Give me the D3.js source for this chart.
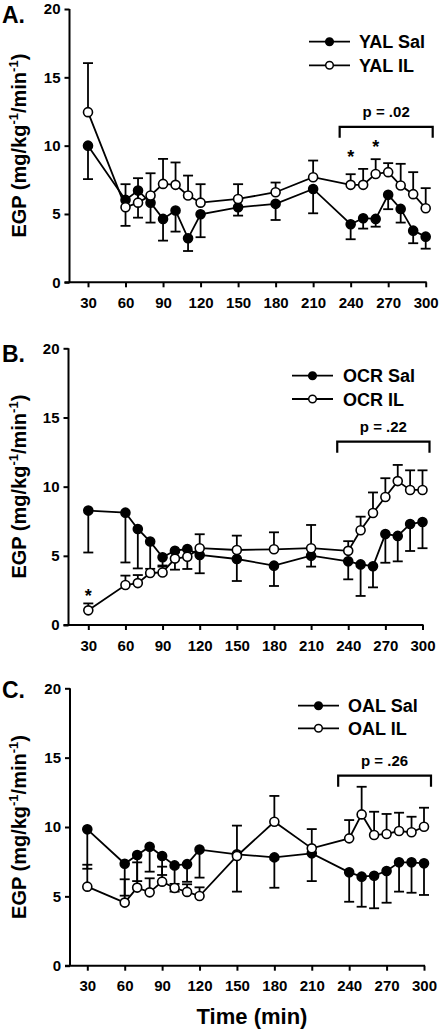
<!DOCTYPE html>
<html>
<head>
<meta charset="utf-8">
<script src="https://cdn.jsdelivr.net/npm/d3@7"></script>
<style>
  html, body { margin: 0; padding: 0; background: #fff; }
  svg { display: block; }
  text { font-family: "Liberation Sans", Arial, sans-serif; font-weight: bold; fill: #000; }
</style>
</head>
<body>
<svg id="chart" width="442" height="1034"></svg>
<script>
// ---------- data ----------
const times = [30, 60, 70, 80, 90, 100, 110, 120, 150, 180, 210, 240, 250, 260, 270, 280, 290, 300];
const xTicks = [30, 60, 90, 120, 150, 180, 210, 240, 270, 300];
const yTicks = [0, 5, 10, 15, 20];

// Panel A
const yalSal    = [10.0, 6.03, 6.71, 5.83, 4.64, 5.25, 3.22, 4.98, 5.49, 5.74, 6.83, 4.25, 4.69, 4.64, 6.40, 5.37, 3.78, 3.34];
const yalSalErr = [2.45, 1.90, 1.98, 1.46, 1.59, 1.54, 0.93, 1.68, 0.61, 1.18, 1.78, 1.10, 0.76, 0.57, 1.05, 1.00, 0.92, 0.88];
const yalIL     = [12.45, 5.49, 5.83, 6.35, 7.20, 7.13, 6.35, 5.83, 6.10, 6.59, 7.69, 7.13, 7.13, 7.93, 8.06, 7.08, 6.45, 5.42];
const yalILErr  = [3.59, 1.69, 1.79, 1.63, 1.83, 1.64, 1.46, 1.35, 1.08, 0.71, 1.22, 0.78, 1.17, 1.08, 0.66, 1.59, 1.61, 1.47];

// Panel B
const ocrSal    = [8.27, 8.12, 6.94, 6.03, 4.90, 5.37, 5.49, 5.06, 4.77, 4.29, 5.01, 4.60, 4.38, 4.25, 6.57, 6.44, 7.30, 7.45];
const ocrSalErr = [3.03, 3.60, 2.85, 2.30, 0.60, 1.37, 1.44, 1.32, 1.59, 1.47, 0.79, 1.30, 2.28, 1.53, 2.07, 1.84, 1.95, 1.90];
const ocrIL     = [1.06, 2.89, 3.03, 3.76, 3.80, 4.80, 4.93, 5.55, 5.42, 5.47, 5.55, 5.36, 6.85, 8.10, 9.25, 10.40, 9.76, 9.76];
const ocrILErr  = [0.50, 0.68, 0.58, 0.30, 0.42, 0.50, 0.50, 1.01, 1.04, 1.23, 1.68, 0.70, 0.98, 1.48, 1.36, 1.17, 1.42, 1.42];

// Panel C
const oalSal    = [9.83, 7.35, 7.98, 8.58, 7.91, 7.23, 7.32, 8.37, 8.03, 7.81, 8.10, 6.73, 6.42, 6.49, 6.83, 7.45, 7.45, 7.38];
const oalSalErr = [2.84, 2.30, 1.88, 1.80, 1.37, 1.89, 1.27, 2.02, 2.69, 2.19, 2.00, 2.12, 2.17, 2.35, 2.29, 2.11, 2.19, 2.28];
const oalIL     = [5.70, 4.55, 5.63, 5.29, 6.06, 5.60, 5.32, 5.02, 7.91, 10.38, 8.46, 9.18, 10.91, 9.42, 9.50, 9.71, 9.62, 10.02];
const oalILErr  = [1.58, 1.68, 1.82, 1.01, 1.08, 0.30, 0.55, 0.63, 2.19, 1.86, 1.39, 1.32, 1.99, 1.68, 1.44, 1.32, 1.12, 1.37];

// Annotations (asterisks: time, value) and bracket values
const starsA = [[240, 9.46], [260, 10.2]];
const starsB = [[30, 2.41]];
const starsC = [];
const pLabels = ["p = .02", "p = .22", "p = .26"];
const bracketY = [11.38, 13.25, 13.7];
const panelLetters = ["A.", "B.", "C."];
const seriesNames = [["YAL Sal", "YAL IL"], ["OCR Sal", "OCR IL"], ["OAL Sal", "OAL IL"]];

// ---------- layout ----------
const panels = [
  { letter: panelLetters[0], sal: yalSal, salErr: yalSalErr, il: yalIL, ilErr: yalILErr, stars: starsA, p: pLabels[0], by: bracketY[0], names: seriesNames[0],
    xL: 88, xR: 425.7, y0: 282.3, y20: 9, axisX: 69.5, letterY: 22.5, leg: { x1: 309, x2: 350, tx: 359, r1: 41.7, r2: 65.3 } },
  { letter: panelLetters[1], sal: ocrSal, salErr: ocrSalErr, il: ocrIL, ilErr: ocrILErr, stars: starsB, p: pLabels[1], by: bracketY[1], names: seriesNames[1],
    xL: 88.3, xR: 422.5, y0: 625, y20: 348.3, axisX: 68.5, letterY: 361.7, leg: { x1: 292, x2: 333, tx: 343, r1: 375.7, r2: 399 } },
  { letter: panelLetters[2], sal: oalSal, salErr: oalSalErr, il: oalIL, ilErr: oalILErr, stars: starsC, p: pLabels[2], by: bracketY[2], names: seriesNames[2],
    xL: 87.3, xR: 424, y0: 965.7, y20: 688.3, axisX: 70, letterY: 698.3, leg: { x1: 298, x2: 339, tx: 348, r1: 705.7, r2: 728.3 } }
];

const svg = d3.select("#chart");
const LW = 1.8;

panels.forEach(P => {
  const x = d3.scaleLinear().domain([30, 300]).range([P.xL, P.xR]);
  const y = d3.scaleLinear().domain([0, 20]).range([P.y0, P.y20]);
  const g = svg.append("g");

  // axes
  const yAxis = d3.axisLeft(y).tickValues(yTicks).tickSize(5).tickPadding(4);
  const ya = g.append("g").attr("transform", `translate(${P.axisX},0)`).call(yAxis);
  ya.select(".domain").remove();
  ya.selectAll(".tick line").attr("stroke", "#000").attr("stroke-width", 2);
  ya.selectAll(".tick text").style("font-size", "15px").attr("font-family", null);
  g.append("line").attr("x1", P.axisX).attr("x2", P.axisX).attr("y1", y(0)).attr("y2", y(20))
    .attr("stroke", "#000").attr("stroke-width", 2);

  const xAxis = d3.axisBottom(x).tickValues(xTicks).tickSize(5).tickPadding(10);
  const xa = g.append("g").attr("transform", `translate(0,${P.y0})`).call(xAxis);
  xa.select(".domain").remove();
  xa.selectAll(".tick line").attr("stroke", "#000").attr("stroke-width", 2);
  xa.selectAll(".tick text").style("font-size", "15px").attr("font-family", null);
  g.append("line").attr("x1", P.axisX - 5).attr("x2", x(300) + 1).attr("y1", y(0)).attr("y2", y(0))
    .attr("stroke", "#000").attr("stroke-width", 2);

  // y label
  const yl = g.append("text")
    .attr("transform", `translate(25.5,${(y(0) + y(20)) / 2}) rotate(-90)`)
    .attr("text-anchor", "middle").style("font-size", "20px");
  yl.append("tspan").text("EGP (mg/kg");
  yl.append("tspan").attr("dy", -8).style("font-size", "13px").text("-1");
  yl.append("tspan").attr("dy", 8).text("/min");
  yl.append("tspan").attr("dy", -8).style("font-size", "13px").text("-1");
  yl.append("tspan").attr("dy", 8).text(")");

  // panel letter
  g.append("text").attr("x", 2).attr("y", P.letterY).style("font-size", "23px").text(P.letter);

  const series = [
    { v: P.sal, e: P.salErr, dir: -1, fill: "#000" },
    { v: P.il, e: P.ilErr, dir: 1, fill: "#fff" }
  ];

  series.forEach(S => {
    const pts = times.map((t, i) => ({ t, v: S.v[i], e: S.e[i] }));
    // error bars
    const eb = g.append("g");
    pts.forEach(d => {
      const yEnd = y(d.v + S.dir * d.e);
      eb.append("line").attr("x1", x(d.t)).attr("x2", x(d.t)).attr("y1", y(d.v)).attr("y2", yEnd)
        .attr("stroke", "#000").attr("stroke-width", LW);
      eb.append("line").attr("x1", x(d.t) - 5).attr("x2", x(d.t) + 5).attr("y1", yEnd).attr("y2", yEnd)
        .attr("stroke", "#000").attr("stroke-width", LW);
    });
    // line
    g.append("path").datum(pts)
      .attr("d", d3.line().x(d => x(d.t)).y(d => y(d.v)))
      .attr("fill", "none").attr("stroke", "#000").attr("stroke-width", LW);
    S.pts = pts;
  });
  series.forEach(S => {
    g.append("g").selectAll("circle").data(S.pts).join("circle")
      .attr("cx", d => x(d.t)).attr("cy", d => y(d.v)).attr("r", 4.5)
      .attr("fill", S.fill).attr("stroke", "#000").attr("stroke-width", 1.6);
  });

  // asterisks
  P.stars.forEach(s => {
    g.append("text").attr("x", x(s[0])).attr("y", y(s[1]) + 10).attr("text-anchor", "middle")
      .style("font-size", "18px").text("*");
  });

  // bracket
  const bx1 = x(240) - 11, bx2 = x(300) + 7, byy = y(P.by);
  g.append("path").attr("d", `M${bx1},${byy + 11}V${byy}H${bx2}V${byy + 11}`)
    .attr("fill", "none").attr("stroke", "#000").attr("stroke-width", 2.2);
  g.append("text").attr("x", (bx1 + bx2) / 2).attr("y", byy - 10).attr("text-anchor", "middle")
    .style("font-size", "15px").text(P.p);

  // legend
  const L = P.leg;
  [[L.r1, "#000", P.names[0]], [L.r2, "#fff", P.names[1]]].forEach(([ry, f, name]) => {
    g.append("line").attr("x1", L.x1).attr("x2", L.x2).attr("y1", ry).attr("y2", ry)
      .attr("stroke", "#000").attr("stroke-width", LW);
    g.append("circle").attr("cx", (L.x1 + L.x2) / 2).attr("cy", ry).attr("r", 3.8)
      .attr("fill", f).attr("stroke", "#000").attr("stroke-width", 1.5);
    g.append("text").attr("x", L.tx).attr("y", ry + 6.5).style("font-size", "18px").text(name);
  });
});

// x title
svg.append("text").attr("x", 252).attr("y", 1024).attr("text-anchor", "middle")
  .style("font-size", "22px").text("Time (min)");
</script>
</body>
</html>
